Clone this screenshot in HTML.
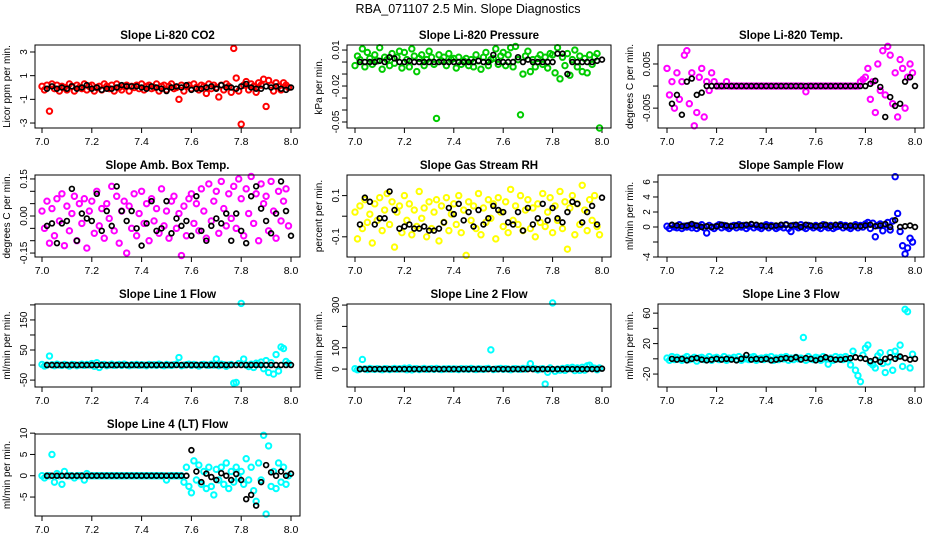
<!DOCTYPE html>
<html><head><meta charset="utf-8"><style>
body{margin:0;background:#fff}
svg{display:block;font-family:"Liberation Sans",sans-serif}
</style></head><body>
<svg id="c" width="936" height="540" viewBox="0 0 936 540">
<text x="468" y="13" text-anchor="middle" font-size="12.5">RBA_071107  2.5 Min. Slope Diagnostics</text>
</svg>
<script>
// ---- data ----
const co2Color=[0.1,-0.2,0.2,-2.0,0.3,-0.1,0.2,-0.3,0.1,0,-0.2,0.3,0.1,-0.3,0.2,0,-0.1,0.3,-0.2,0.1,0.2,-0.3,0,0.1,-0.2,0.3,0.1,-0.1,0.2,-0.3,0.3,0,-0.2,0.1,0.2,-0.3,0.1,0,0.2,-0.1,0.3,-0.2,0.1,0.2,-0.1,0,0.3,-0.3,0.1,0.2,-0.2,0.1,0.3,-0.1,0,-1.0,0.2,-0.3,0.1,0.2,-0.1,0.3,0,-0.2,0.2,0.1,-0.5,0.3,-0.1,0.2,0,-0.8,0.2,-0.2,0.3,0.1,-0.4,3.3,0.8,-0.3,-3.1,0.2,0.5,-0.2,0.3,0.1,-0.4,0.4,0.2,0.7,-1.6,0.6,0.2,-0.3,0.4,0.1,-0.2,0.4,0.2,0];
const co2Black=[-0.1,0.1,-0.1,0,-0.1,0.1,-0.1,0,0.2,-0.1,0,-0.2,-0.1,-0.1,0,0.2,0.1,0.1,0.1,0,-0.1,0.1,0,-0.1,-0.3,0,0.1,0,0.2,-0.2,-0.1,-0.1,0,0.1,-0.1,0.2,0,0,-0.1,0.1,0.3,0,-0.1,-0.1,0.1,0,0.1,-0.1,-0.2,0];
const presColor=[-.003,.005,.002,.011,-.004,.008,.003,-.002,.006,.001,.012,-.006,.004,.002,-.003,.007,-.001,.004,.009,-.005,.008,.002,-.004,.011,.005,-.008,.003,.006,-.003,.002,.009,.004,-.002,-.047,.006,.001,.004,-.003,.007,.002,.003,-.005,.004,-.002,.001,.003,-.003,.002,-.004,.006,.001,-.006,.004,.008,-.003,.002,.003,.011,-.002,.005,.008,-.003,.006,.012,-.004,.013,.002,-.044,-.010,.005,.009,-.008,.002,-.004,.003,.006,-.002,.004,-.005,.007,.006,-.009,.012,-.014,.004,-.003,.007,-.011,.002,.010,-.004,.005,-.008,.003,-.009,.006,-.002,.004,.007,-.055];
const presBlack=[0,0,0,0,.001,0,.004,.003,0,0,.001,0,0,0,0,0,0,0,0,0,0,0,0,0,.001,0,0,.006,0,0,0,0,.004,0,.002,0,0,0,0,0,.007,.007,-.010,0,0,0,0,0,.001,.002];
const tempColor=[.004,-.002,.001,-.005,.003,-.003,.001,.007,.008,-.004,.003,-.009,-.006,.002,.004,-.007,.001,-.001,.003,.001,0,0,0,0,.001,0,0,0,0,0,0,0,0,0,0,0,0,0,0,0,0,0,0,0,0,0,0,0,0,0,0,0,0,0,0,0,-.0013,0,0,0,0,0,0,0,0,0,0,0,0,0,0,0,0,0,0,0,0,0,.001,.0015,.002,.004,-.003,.001,-.006,.005,-.001,.008,-.002,.009,.007,-.004,.003,-.007,.006,.004,-.005,.002,.005,.003];
const tempBlack=[-.004,-.002,-.0065,.001,.0017,-.002,-.0015,0,0,0,0,0,0,0,0,0,0,0,0,0,0,0,0,0,0,0,0,0,0,0,0,0,0,0,0,0,0,0,0,0,.0005,.0012,-.0002,-.007,-.0025,-.0045,-.004,.001,.002,0];
const ambColor=[.02,-.05,.06,-.11,.03,-.08,.07,-.02,.09,-.12,.04,-.06,.01,.08,-.1,.05,-.03,.07,-.13,.02,.06,-.07,.1,-.04,.03,-.09,.05,-.01,.12,-.06,.08,-.11,.02,.06,-.15,.04,-.05,.09,-.08,.01,.1,-.03,.05,-.1,.07,-.02,.03,-.07,.11,-.04,.02,-.09,.06,.08,-.05,.01,-.16,.04,-.08,.07,.09,-.03,.05,-.06,.11,.02,-.09,.13,-.02,.06,.1,-.07,.14,.03,-.04,.09,-.01,.12,-.05,.15,.07,-.08,.11,.01,.16,-.03,.09,-.1,.13,.05,.08,-.06,.14,.02,-.09,.1,-.02,.06,.11,-.04];
const ambBlack=[-.04,-.03,-.11,-.03,-.02,.11,-.1,.01,-.01,-.02,.09,-.06,.02,-.04,.12,.02,-.02,.02,-.05,-.12,-.03,.06,-.06,-.05,.06,-.07,-.01,-.04,-.02,-.08,.08,-.06,-.1,-.04,-.01,-.03,.01,-.1,.01,-.06,-.11,.08,.12,.03,-.02,-.07,.01,.14,.02,-.08];
const rhColor=[.02,-.11,.05,-.06,.08,-.03,.01,-.13,.06,-.02,.09,-.07,.03,.11,-.04,.07,-.15,.02,.05,-.08,.1,-.02,.06,-.09,.03,-.05,.12,-.01,.04,-.1,.07,-.06,.02,.08,-.12,.05,-.03,.09,-.07,.01,.06,-.04,.1,-.08,.03,-.19,.07,-.02,.05,-.06,.11,-.09,.04,-.03,.08,-.01,.06,-.11,.09,.02,-.05,.07,-.08,.13,-.02,.05,-.04,.1,-.07,.03,.08,-.06,.04,-.1,.06,-.03,.11,-.05,.02,.09,-.08,.05,-.02,.12,-.06,.07,-.16,.04,.1,-.09,.06,-.04,.15,.03,-.07,.08,-.02,.1,-.05,-.09];
const rhBlack=[-.04,.09,.07,-.04,-.01,-.01,.12,.03,-.06,-.05,-.04,-.06,-.06,-.05,-.07,-.07,-.06,-.03,.04,.01,.06,-.02,.02,-.05,.03,-.04,-.01,.05,.03,.02,-.03,-.04,.02,-.07,.04,-.04,-.01,.06,-.02,.04,-.01,-.03,.02,.07,.06,-.03,.02,.05,-.04,.09];
const flowColor=[.1,-.2,.2,0,-.1,.3,-.2,.1,0,.2,-.1,.2,-.2,.1,.3,-.1,-.8,.2,0,-.2,.1,.3,-.1,.2,0,-.2,.1,.2,-.1,.3,0,.2,-.2,.1,.3,-.1,.2,0,-.2,.1,.3,-.1,.2,.1,-.2,0,.2,-.1,.3,-.2,-.6,.2,.1,-.1,.3,0,-.2,.2,.1,-.1,.2,0,-.2,.3,.1,-.1,.2,-.2,0,.1,.3,-.1,.2,0,-.2,.1,.3,-.1,.2,0,.4,.6,-.2,.5,-1.3,.2,.4,-.5,.3,.6,-.4,.8,6.7,1.8,-.6,-2.5,-3.6,-2.8,-1.5,-2.0];
const flowBlack=[.3,.2,.1,.2,.4,.2,0,.1,0,.1,.3,.2,.1,.2,.2,.3,.4,.3,.2,.1,.1,.2,.3,.3,.2,.3,0,.3,.2,.1,.2,.3,.1,.3,.2,.1,.2,.1,.1,.2,.3,.1,.2,.4,0,.9,0,.1,.2,0];
const l1Color=[2,-3,0,30,1,-2,3,0,-1,2,0,-3,2,1,-2,0,3,-1,2,0,5,-4,8,-8,1,2,-2,0,3,-1,0,2,-1,3,0,-2,1,0,2,-1,1,0,-2,2,0,1,-1,3,0,-2,2,0,-1,1,3,25,-2,0,1,3,-1,2,0,-3,1,2,0,-1,3,0,20,-2,3,1,-4,0,2,-60,-58,5,205,20,0,-5,3,-8,6,2,10,-12,15,-25,8,-30,35,-20,60,55,12,5];
const l1Black=[0,0,0,0,0,0,0,0,0,0,0,0,0,0,0,0,0,0,0,0,0,0,0,0,0,0,0,0,0,0,0,0,0,0,0,0,0,0,0,0,0,0,0,0,0,0,0,0,0,0];
const l2Color=[2,-3,0,45,1,-2,3,0,-1,2,0,-3,2,1,-2,0,3,-1,2,0,4,-3,5,-4,1,2,-2,0,3,-1,0,2,-1,3,0,-2,1,0,2,-1,1,0,-2,2,0,1,-1,3,0,-2,2,0,-1,1,3,90,-2,0,1,3,-1,2,0,-3,1,2,0,-1,3,0,4,25,3,1,-4,0,2,-70,-15,5,310,-10,0,-5,3,-6,6,2,8,-7,5,-6,8,-5,15,18,6,4,-3,5];
const l2Black=[0,0,0,0,0,0,0,0,0,0,0,0,0,0,0,0,0,0,0,0,0,0,0,0,0,0,0,0,0,0,0,0,0,0,0,0,0,0,0,0,0,0,0,0,0,0,0,0,0,2];
const l3Color=[1,-2,3,-1,2,0,-2,1,3,-1,0,2,-3,1,2,-1,0,3,-2,1,2,-1,0,3,-2,1,0,2,-1,3,-2,1,0,-1,2,3,-2,0,1,-1,2,0,3,-2,1,-1,2,0,3,-2,1,-1,2,0,1,28,-2,3,0,-1,2,1,-2,3,0,-7,1,-2,3,0,2,-1,3,0,-8,10,-15,-22,-30,5,14,18,-5,-8,-12,4,8,-6,-18,-4,8,-15,10,3,18,-10,65,62,-12,6];
const l3Black=[0,-1,0,-2,0,1,-1,-2,-1,0,-1,0,-1,-2,0,5,-1,0,-1,0,-2,-1,0,1,0,2,-1,1,0,-2,0,2,0,-1,-1,0,1,2,1,0,-3,-1,-4,0,2,0,3,1,-1,0];
const l4Color=[0,-.5,0,0,5,-1.5,.5,0,-2,1,0,0,0,-.5,0,0,0,-1,.5,0,0,0,0,0,0,0,0,0,0,0,0,0,0,0,0,0,0,0,0,0,0,0,0,0,0,0,0,0,0,0,-1,0,0,0,0,0,0,-1.5,2,-2.5,-4,3.5,-1,2.5,-2,1,-3,2,-2.5,-4.5,1.5,-1,2,-2,3,-3,1,-1.5,2,-.5,1,-2,4,-1,2,-3.5,-6,3,-1,9.5,-9,7,-2.5,1,-3,3,-1.5,2,-2,0];
const l4Black=[0,0,0,0,0,0,0,0,0,0,0,0,0,0,0,0,0,0,0,0,0,0,0,0,0,0,0,0,0,6,1,-1.5,.5,-.3,-1,.6,0,-1,.4,-1,-5.5,-4.5,-7,-1.5,2.5,.8,0,1,0,.5];
const xTicks=[7.0,7.2,7.4,7.6,7.8,8.0];
const xTickLabels=["7.0","7.2","7.4","7.6","7.8","8.0"];

// ---- panels (layout config) ----
const NS='http://www.w3.org/2000/svg';
const svg=document.getElementById('c');
function mk(tag,attrs,parent){const e=document.createElementNS(NS,tag);for(const k in attrs)e.setAttribute(k,attrs[k]);(parent||svg).appendChild(e);return e;}
const cols=[{l:35,r:300,x0:42,x1:291},{l:347,r:611,x0:355,x1:602},{l:658,r:924,x0:667,x1:915}];
const rows=[{t:45,b:128},{t:175,b:257},{t:304,b:387},{t:434,b:516}];
const panels=[
 {name:'co2',title:'Slope Li-820 CO2',ylab:'Licor ppm per min.',c:0,r:0,col:'#ff0000',data:co2Color,blk:co2Black,ymin:-3.42,ymax:3.59,ticks:[-3,-1,1,3],labels:['-3','-1','1','3']},
 {name:'pressure',title:'Slope Li-820 Pressure',ylab:'kPa per min.',c:1,r:0,col:'#00cc00',data:presColor,blk:presBlack,ymin:-0.055,ymax:0.0142,ticks:[-0.05,-0.04,-0.03,-0.02,-0.01,0,0.01],labels:['-0.05','','','-0.02','','','0.01']},
 {name:'temp',title:'Slope Li-820 Temp.',ylab:'degrees C per min.',c:2,r:0,col:'#ff00ff',data:tempColor,blk:tempBlack,ymin:-0.0095,ymax:0.0093,ticks:[-0.005,0,0.005],labels:['-0.005','','0.005']},
 {name:'amb-box',title:'Slope Amb. Box Temp.',ylab:'degrees C per min.',c:0,r:1,col:'#ff00ff',data:ambColor,blk:ambBlack,ymin:-0.166,ymax:0.166,ticks:[-0.15,-0.1,-0.05,0,0.05,0.1,0.15],labels:['-0.15','','','0.00','','','0.15']},
 {name:'rh',title:'Slope Gas Stream RH',ylab:'percent per min.',c:1,r:1,col:'#ffff00',data:rhColor,blk:rhBlack,ymin:-0.198,ymax:0.2,ticks:[-0.1,0,0.1],labels:['-0.1','','0.1']},
 {name:'sample-flow',title:'Slope Sample Flow',ylab:'ml/min per min.',c:2,r:1,col:'#0000ff',data:flowColor,blk:flowBlack,ymin:-4,ymax:6.93,ticks:[-4,-2,0,2,4,6],labels:['-4','','0','2','4','6']},
 {name:'line1',title:'Slope Line 1 Flow',ylab:'ml/min per min.',c:0,r:2,col:'#00ffff',data:l1Color,blk:l1Black,ymin:-73,ymax:203,ticks:[-50,0,50,100,150,200],labels:['-50','','50','','150','']},
 {name:'line2',title:'Slope Line 2 Flow',ylab:'ml/min per min.',c:1,r:2,col:'#00ffff',data:l2Color,blk:l2Black,ymin:-84,ymax:305,ticks:[0,100,200,300],labels:['0','100','','300']},
 {name:'line3',title:'Slope Line 3 Flow',ylab:'ml/min per min.',c:2,r:2,col:'#00ffff',data:l3Color,blk:l3Black,ymin:-37,ymax:72,ticks:[-20,0,20,40,60],labels:['-20','','20','','60']},
 {name:'line4',title:'Slope Line 4 (LT) Flow',ylab:'ml/min per min.',c:0,r:3,col:'#00ffff',data:l4Color,blk:l4Black,ymin:-9.45,ymax:9.8,ticks:[-5,0,5,10],labels:['-5','0','5','10']}
];
panels.forEach(p=>{
 const C=cols[p.c],R=rows[p.r];
 const g=mk('g',{});
 
 
 const xs=v=>C.x0+(v-7)*(C.x1-C.x0);
 const ys=v=>R.b-(v-p.ymin)/(p.ymax-p.ymin)*(R.b-R.t);
 const t=mk('text',{x:(C.l+C.r)/2,y:R.t-6,'text-anchor':'middle','font-size':'11.5','font-weight':'bold'},g);
 t.textContent=p.title;
 
 
 const yl=mk('text',{x:0,y:0,'text-anchor':'middle','font-size':'10',transform:`translate(${C.l-25},${(R.t+R.b)/2}) rotate(-90)`},g);
 yl.textContent=p.ylab;
 
 
 mk('line',{x1:C.x0,x2:C.x1,y1:R.b,y2:R.b,stroke:'#000'},g);
 xTicks.forEach((v,i)=>{
  mk('line',{x1:xs(v),x2:xs(v),y1:R.b,y2:R.b+5,stroke:'#000'},g);
  const tl=mk('text',{x:xs(v),y:R.b+17,'text-anchor':'middle','font-size':'10.5'},g);
  tl.textContent=xTickLabels[i];
  
  
 });
 const tk=p.ticks;
 mk('line',{x1:C.l,x2:C.l,y1:ys(tk[0]),y2:ys(tk[tk.length-1]),stroke:'#000'},g);
 tk.forEach((v,i)=>{
  mk('line',{x1:C.l-5,x2:C.l,y1:ys(v),y2:ys(v),stroke:'#000'},g);
  if(p.labels[i]){
   const tl=mk('text',{x:0,y:0,'text-anchor':'middle','font-size':'10',transform:`translate(${C.l-8},${ys(v)}) rotate(-90)`},g);
   tl.textContent=p.labels[i];
   
   
  }
 });
 p.data.forEach((v,i)=>{
  const c=mk('circle',{cx:xs(7+i*0.01),cy:ys(v),r:2.7,fill:'none',stroke:p.col,'stroke-width':2},g);
  
  
 });
 p.blk.forEach((v,i)=>{
  const c=mk('circle',{cx:xs(7.02+i*0.02),cy:ys(v),r:2.4,fill:'none',stroke:'#000','stroke-width':1.7},g);
  
  
 });
 mk('rect',{x:C.l,y:R.t,width:C.r-C.l,height:R.b-R.t,fill:'none',stroke:'#000'},g);
});
</script>
</body></html>
